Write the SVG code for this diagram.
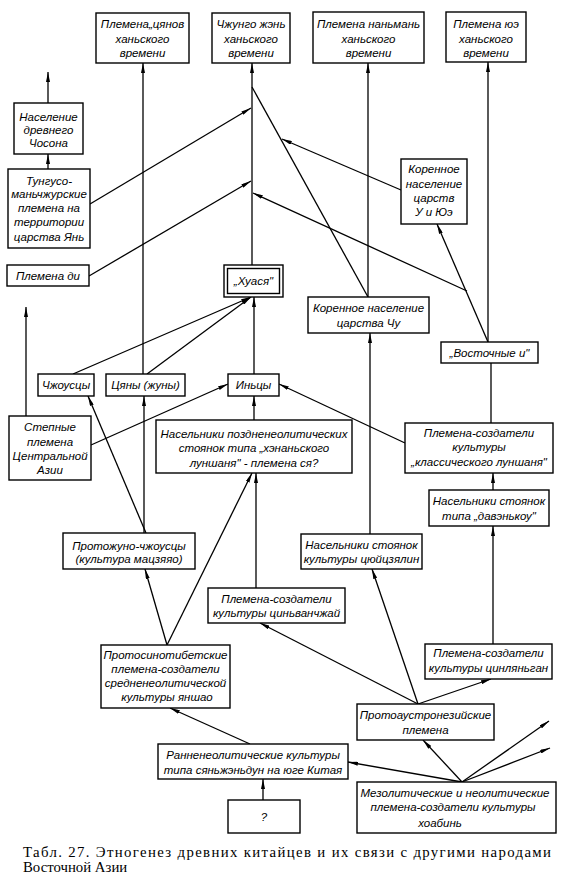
<svg xmlns="http://www.w3.org/2000/svg" width="561" height="878" viewBox="0 0 561 878">
<style>
.b{fill:#fff;stroke:#000;stroke-width:1.4}
.t{font-family:"Liberation Sans","DejaVu Sans",sans-serif;font-style:italic;font-size:11.5px;fill:#000;text-anchor:middle}
.c{fill:none;stroke:#000;stroke-width:1.3}
.a{marker-end:url(#ah)}
.cap{font-family:"Liberation Serif","DejaVu Serif",serif;font-size:14.8px;fill:#000}
</style>
<defs>
<marker id="ah" viewBox="0 0 10 4" refX="10" refY="2" markerWidth="10" markerHeight="4" markerUnits="userSpaceOnUse" orient="auto">
<path d="M0,0 L10,2 L0,4 z" fill="#000"/>
</marker>
</defs>
<rect width="561" height="878" fill="#fff"/>
<g id="connectors">
<path class="c a" d="M48,103 L48,72"/>
<path class="c a" d="M48,169 L48,154"/>
<path class="c a" d="M143,374 L143,63"/>
<path class="c a" d="M144,533 L144,396"/>
<path class="c a" d="M252,265 L252,63"/>
<path class="c a" d="M90,204 L251,108"/>
<path class="c a" d="M89,276 L251,181"/>
<path class="c" d="M368,297 L252,87"/>
<path class="c a" d="M401,190 L282,139"/>
<path class="c a" d="M488,342 L437,224"/>
<path class="c a" d="M467,291 L253,193"/>
<path class="c a" d="M368,297 L368,63"/>
<path class="c a" d="M488,342 L488,62"/>
<path class="c a" d="M370,534 L370,333"/>
<path class="c" d="M491,423 L491,363"/>
<path class="c a" d="M493,490 L493,473"/>
<path class="c a" d="M493,644 L493,526"/>
<path class="c a" d="M73,374 L251,297"/>
<path class="c a" d="M147,374 L251,297"/>
<path class="c a" d="M254,374 L254,297"/>
<path class="c a" d="M254,420 L254,396"/>
<path class="c a" d="M91,445 L228,384"/>
<path class="c a" d="M405,443 L279,384"/>
<path class="c a" d="M146,533 L88,396"/>
<path class="c a" d="M26,416 L26,307"/>
<path class="c a" d="M167,645 L145,569"/>
<path class="c a" d="M167,645 L252,473"/>
<path class="c a" d="M256,588 L256,473"/>
<path class="c a" d="M250,744 L170,708"/>
<path class="c a" d="M418,704 L260,623"/>
<path class="c a" d="M418,704 L372,569"/>
<path class="c a" d="M418,704 L491,679"/>
<path class="c a" d="M462,782 L423,740"/>
<path class="c a" d="M462,782 L348,762"/>
<path class="c a" d="M462,782 L549,721"/>
<path class="c a" d="M462,782 L550,748"/>
<path class="c a" d="M263,800 L263,779"/>
</g>
<g id="n1"><rect class="b" x="96" y="13" width="93" height="50"/><text class="t" x="142.5" y="28">Племена„цянов</text><text class="t" x="142.5" y="43">ханьского</text><text class="t" x="142.5" y="57">времени</text></g>
<g id="n2"><rect class="b" x="212" y="13" width="78" height="50"/><text class="t" x="251" y="28">Чжунго жэнь</text><text class="t" x="251" y="43">ханьского</text><text class="t" x="251" y="57">времени</text></g>
<g id="n3"><rect class="b" x="313" y="12" width="111" height="51"/><text class="t" x="368.5" y="28">Племена наньмань</text><text class="t" x="368.5" y="43">ханьского</text><text class="t" x="368.5" y="57">времени</text></g>
<g id="n4"><rect class="b" x="446" y="12" width="80" height="50"/><text class="t" x="486" y="28">Племена юэ</text><text class="t" x="486" y="43">ханьского</text><text class="t" x="486" y="57">времени</text></g>
<g id="n5"><rect class="b" x="14" y="103" width="69" height="51"/><text class="t" x="48.5" y="121">Население</text><text class="t" x="48.5" y="134">древнего</text><text class="t" x="48.5" y="147">Чосона</text></g>
<g id="n6"><rect class="b" x="8" y="169" width="82" height="79"/><text class="t" x="49" y="185">Тунгусо-</text><text class="t" x="49" y="198">маньчжурские</text><text class="t" x="49" y="212">племена на</text><text class="t" x="49" y="226">территории</text><text class="t" x="49" y="241">царства Янь</text></g>
<g id="n7"><rect class="b" x="7" y="265" width="82" height="21"/><text class="t" x="48" y="280">Племена ди</text></g>
<g id="n8"><rect class="b" x="224" y="265" width="59" height="32"/><rect class="b" x="227.5" y="268.5" width="52" height="25"/><text class="t" x="253.5" y="285">„Хуася"</text></g>
<g id="n9"><rect class="b" x="38" y="374" width="56" height="22"/><text class="t" x="66" y="389">Чжоусцы</text></g>
<g id="n10"><rect class="b" x="106" y="374" width="79" height="22"/><text class="t" x="145.5" y="389">Цяны (жуны)</text></g>
<g id="n11"><rect class="b" x="228" y="374" width="51" height="22"/><text class="t" x="253.5" y="389">Иньцы</text></g>
<g id="n12"><rect class="b" x="9" y="416" width="82" height="64"/><text class="t" x="50" y="431">Степные</text><text class="t" x="50" y="446">племена</text><text class="t" x="50" y="460">Центральной</text><text class="t" x="50" y="474">Азии</text></g>
<g id="n13"><rect class="b" x="156" y="420" width="196" height="53"/><text class="t" x="254" y="438">Насельники поздненеолитических</text><text class="t" x="254" y="452">стоянок типа „хэнаньского</text><text class="t" x="254" y="467">луншаня" - племена ся?</text></g>
<g id="n14"><rect class="b" x="308" y="297" width="121" height="36"/><text class="t" x="368.5" y="312">Коренное население</text><text class="t" x="368.5" y="327">царства Чу</text></g>
<g id="n15"><rect class="b" x="401" y="159" width="66" height="65"/><text class="t" x="434" y="173">Коренное</text><text class="t" x="434" y="188">население</text><text class="t" x="434" y="202">царств</text><text class="t" x="434" y="216">У и Юэ</text></g>
<g id="n16"><rect class="b" x="441" y="342" width="97" height="21"/><text class="t" x="489.5" y="357">„Восточные и"</text></g>
<g id="n17"><rect class="b" x="405" y="423" width="148" height="50"/><text class="t" x="479" y="437">Племена-создатели</text><text class="t" x="479" y="451">культуры</text><text class="t" x="479" y="466">„классического луншаня"</text></g>
<g id="n18"><rect class="b" x="429" y="490" width="120" height="36"/><text class="t" x="489" y="505">Насельники стоянок</text><text class="t" x="489" y="520">типа „давэнькоу"</text></g>
<g id="n19"><rect class="b" x="301" y="534" width="121" height="35"/><text class="t" x="361.5" y="549">Насельники стоянок</text><text class="t" x="361.5" y="563">культуры цюйцзялин</text></g>
<g id="n20"><rect class="b" x="63" y="533" width="132" height="36"/><text class="t" x="129" y="550">Протожуно-чжоусцы</text><text class="t" x="129" y="563">(культура мацзяяо)</text></g>
<g id="n21"><rect class="b" x="208" y="588" width="137" height="35"/><text class="t" x="276.5" y="603">Племена-создатели</text><text class="t" x="276.5" y="617">культуры циньванчжай</text></g>
<g id="n22"><rect class="b" x="101" y="645" width="129" height="63"/><text class="t" x="165.5" y="659">Протосинотибетские</text><text class="t" x="165.5" y="673">племена-создатели</text><text class="t" x="165.5" y="687">средненеолитической</text><text class="t" x="167" y="701">культуры яншао</text></g>
<g id="n23"><rect class="b" x="425" y="644" width="127" height="35"/><text class="t" x="488.5" y="657">Племена-создатели</text><text class="t" x="488.5" y="672">культуры цинляньган</text></g>
<g id="n24"><rect class="b" x="357" y="704" width="137" height="36"/><text class="t" x="425.5" y="719">Протоаустронезийские</text><text class="t" x="425.5" y="734">племена</text></g>
<g id="n25"><rect class="b" x="158" y="744" width="190" height="35"/><text class="t" x="253" y="759">Ранненеолитические культуры</text><text class="t" x="253" y="774">типа сяньжэньдун на юге Китая</text></g>
<g id="n26"><rect class="b" x="228" y="800" width="72" height="33"/><text class="t" x="264" y="821">?</text></g>
<g id="n27"><rect class="b" x="357" y="782" width="199" height="51"/><text class="t" x="455" y="797">Мезолитические и неолитические</text><text class="t" x="453" y="811">племена-создатели культуры</text><text class="t" x="440" y="827">хоабинь</text></g>
<g id="caption"><text class="cap" x="23" y="857" textLength="528" lengthAdjust="spacing">Табл. 27. Этногенез древних китайцев и их связи с другими народами</text><text class="cap" x="23" y="872">Восточной Азии</text></g>
</svg>
